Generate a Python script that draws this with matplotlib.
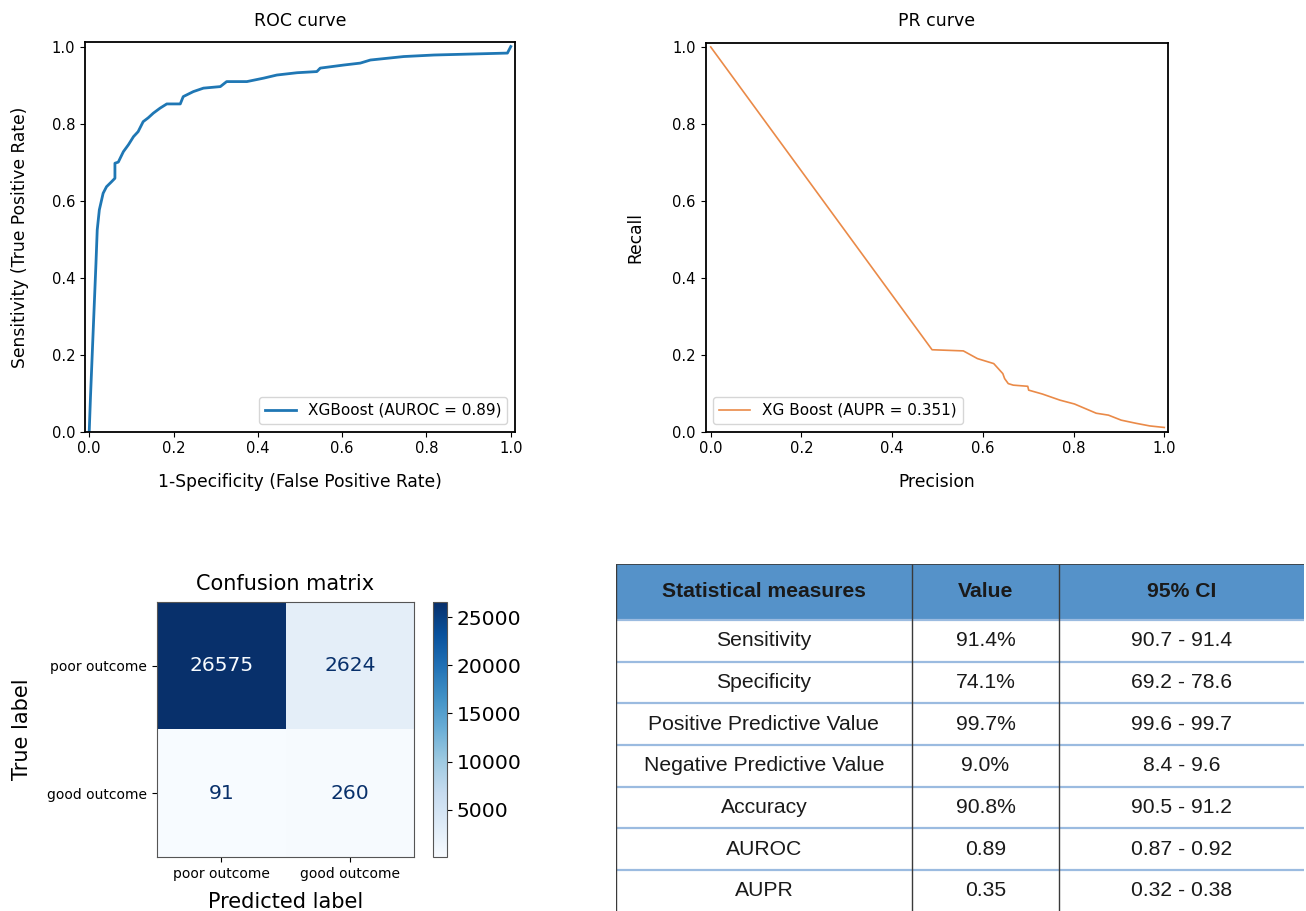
import matplotlib
matplotlib.use("Agg")
import matplotlib.pyplot as plt
import numpy as np

# ---------------- data ----------------
roc_fpr = [0, 0.003, 0.0095, 0.016, 0.019, 0.024, 0.033, 0.041, 0.053, 0.061, 0.061, 0.069,
           0.081, 0.093, 0.105, 0.116, 0.128, 0.14, 0.152, 0.168, 0.184, 0.216, 0.223,
           0.247, 0.271, 0.311, 0.326, 0.374, 0.414, 0.445, 0.493, 0.540, 0.548, 0.604,
           0.643, 0.667, 0.746, 0.818, 0.992, 1.0]
roc_tpr = [0, 0.09, 0.264, 0.437, 0.524, 0.576, 0.619, 0.636, 0.649, 0.658, 0.697, 0.70,
           0.727, 0.745, 0.766, 0.779, 0.805, 0.815, 0.827, 0.84, 0.851, 0.851, 0.87,
           0.883, 0.892, 0.896, 0.909, 0.909, 0.918, 0.926, 0.932, 0.935, 0.944, 0.952,
           0.957, 0.965, 0.974, 0.978, 0.983, 1.0]
roc_label = "XGBoost (AUROC = 0.89)"

pr_precision = [0.0, 0.488, 0.557, 0.588, 0.624, 0.644, 0.648, 0.656, 0.667, 0.699, 0.701,
                0.731, 0.770, 0.802, 0.826, 0.85, 0.877, 0.905, 0.937, 0.968, 1.0]
pr_recall = [1.0, 0.213, 0.21, 0.19, 0.177, 0.151, 0.138, 0.125, 0.121, 0.118, 0.108,
             0.098, 0.082, 0.072, 0.06, 0.048, 0.043, 0.030, 0.022, 0.015, 0.011]
pr_label = "XG Boost (AUPR = 0.351)"

cm_labels = ["poor outcome", "good outcome"]
cm_values = [[26575, 2624],
             [91, 260]]

table_header = ["Statistical measures", "Value", "95% CI"]
table_measures = ["Sensitivity", "Specificity", "Positive Predictive Value",
                  "Negative Predictive Value", "Accuracy", "AUROC", "AUPR"]
table_values = ["91.4%", "74.1%", "99.7%", "9.0%", "90.8%", "0.89", "0.35"]
table_ci = ["90.7 - 91.4", "69.2 - 78.6", "99.6 - 99.7", "8.4 - 9.6",
            "90.5 - 91.2", "0.87 - 0.92", "0.32 - 0.38"]

# ---------------- layout ----------------
W, H = 1306, 911
fig = plt.figure(figsize=(W / 100, H / 100), dpi=100)
fig.patch.set_facecolor("white")


def px_axes(left, top, right, bottom):
    return fig.add_axes([left / W, 1 - bottom / H, (right - left) / W, (bottom - top) / H])


# ROC
ax_roc = px_axes(85, 42.3, 515, 431.7)
ax_roc.plot(roc_fpr, roc_tpr, color="#1f77b4", lw=2.0, label=roc_label)
ax_roc.set_xlim(-0.01, 1.01)
ax_roc.set_ylim(0, 1.011)
ax_roc.set_title("ROC curve", fontsize=12.5, pad=12)
ax_roc.set_xlabel("1-Specificity (False Positive Rate)", fontsize=12.3, labelpad=12)
ax_roc.set_ylabel("Sensitivity (True Positive Rate)", fontsize=12.3, labelpad=16)
ax_roc.tick_params(labelsize=10.6)
ax_roc.legend(loc="lower right", fontsize=11)
for s in ax_roc.spines.values():
    s.set_linewidth(1.3)

# PR
ax_pr = px_axes(705.7, 42.7, 1167.7, 431.7)
ax_pr.plot(pr_precision, pr_recall, color="#ea8a48", lw=1.2, label=pr_label)
ax_pr.set_xlim(-0.011, 1.0075)
ax_pr.set_ylim(0, 1.011)
ax_pr.set_title("PR curve", fontsize=12.5, pad=12)
ax_pr.set_xlabel("Precision", fontsize=12.3, labelpad=12)
ax_pr.set_ylabel("Recall", fontsize=12.3, labelpad=20)
ax_pr.tick_params(labelsize=10.6)
ax_pr.legend(loc="lower left", fontsize=11)
for s in ax_pr.spines.values():
    s.set_linewidth(1.3)

# Confusion matrix
cm = np.array(cm_values)
cmap = plt.get_cmap("Blues")
ax_cm = px_axes(157, 602, 414, 857)
im = ax_cm.imshow(cm, cmap=cmap, interpolation="nearest", aspect="auto")
thresh = (cm.max() + cm.min()) / 2.0
for i in range(cm.shape[0]):
    for j in range(cm.shape[1]):
        color = cmap(0.0) if cm[i, j] > thresh else cmap(1.0)
        ax_cm.text(j, i, f"{cm[i, j]}", ha="center", va="center", color=color, fontsize=14.6)
ax_cm.set_xticks(range(len(cm_labels)))
ax_cm.set_yticks(range(len(cm_labels)))
ax_cm.set_xticklabels(cm_labels, fontsize=10)
ax_cm.set_yticklabels(cm_labels, fontsize=10)
ax_cm.set_xlabel("Predicted label", fontsize=15, labelpad=8)
ax_cm.set_ylabel("True label", fontsize=15, labelpad=11)
ax_cm.set_title("Confusion matrix", fontsize=15, pad=9)
for s in ax_cm.spines.values():
    s.set_color("#555555")
cax = px_axes(433, 602, 447, 857)
cb = fig.colorbar(im, cax=cax)
cb.set_ticks([5000, 10000, 15000, 20000, 25000])
cb.ax.tick_params(labelsize=14.6)
cb.outline.set_edgecolor("#555555")

# Table
ax_t = px_axes(615.7, 564, 1304, 911.6)
ax_t.axis("off")
col_px = [296.3, 147.0, 245.0]
col_w = [c / sum(col_px) for c in col_px]
cell_text = [[m, v, c] for m, v, c in zip(table_measures, table_values, table_ci)]
tbl = ax_t.table(cellText=cell_text, colLabels=table_header, colWidths=col_w,
                 cellLoc="center", bbox=[0, 0, 1, 1])
tbl.auto_set_font_size(False)
header_h = 56.0
row_h = 41.66
total_h = header_h + row_h * len(table_measures)
fam = ["Liberation Sans", "DejaVu Sans"]
for (r, c), cell in tbl.get_celld().items():
    cell.set_height(header_h if r == 0 else row_h)
    cell.set_edgecolor("none")
    txt = cell.get_text()
    txt.set_fontfamily(fam)
    txt.set_color("#1a1a1a")
    txt.set_fontsize(15.2)
    if r == 0:
        cell.set_facecolor("#5592c9")
        txt.set_fontweight("bold")
    else:
        cell.set_facecolor("white")
# horizontal separators (light blue)
ys = 1 - (header_h + row_h * np.arange(len(table_measures))) / total_h
ax_t.hlines(ys, 0, 1, colors="#9bbbe0", lw=1.6, transform=ax_t.transAxes, zorder=5)
# vertical separators & top border
xs = np.concatenate([[0], np.cumsum(col_w)[:-1]])
ax_t.vlines(xs, 0, 1, colors="#3a3a3a", lw=1.0, transform=ax_t.transAxes, zorder=6)
ax_t.hlines(1, 0, 1, colors="#3a3a3a", lw=1.2, transform=ax_t.transAxes, zorder=6)

fig.savefig("out.png", dpi=100, facecolor="white")
